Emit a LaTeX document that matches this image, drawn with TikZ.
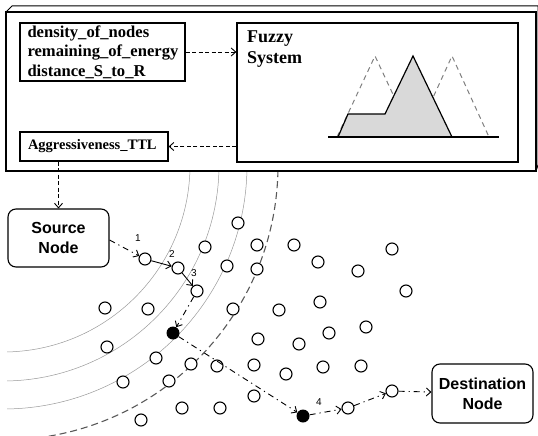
\documentclass[tikz,border=0pt]{standalone}
\usepackage{fontspec}
\setmainfont{Liberation Serif}
\setsansfont{Liberation Sans}
\usetikzlibrary{arrows.meta}
\begin{document}
\begin{tikzpicture}[x=1pt,y=-1pt,
  tip/.style={-{Straight Barb[length=4.5pt,width=8pt]}},
  box/.style={draw, line width=1.3pt, inner ysep=0pt},
  rbox/.style={draw, line width=1.1pt, rounded corners=8pt, minimum width=101pt, minimum height=58pt, inner sep=0pt, font=\sffamily\bfseries\fontsize{16}{20}\selectfont, align=center},
  sn/.style={circle, draw, line width=1.1pt, fill=white, minimum size=12pt, inner sep=0pt},
  bn/.style={circle, fill=black, minimum size=13pt, inner sep=0pt},
  ddarrow/.style={line width=0.9pt, dash pattern=on 6pt off 4pt on 1.2pt off 4pt, tip},
  sarrow/.style={line width=0.9pt, tip},
  dsarrow/.style={line width=0.9pt, dash pattern=on 4pt off 2.5pt, tip},
  numlbl/.style={font=\sffamily\fontsize{10}{12}\selectfont, inner sep=0pt},
  ring/.style={gray!80, line width=0.5pt},
  dring/.style={black!65, line width=1.1pt, dash pattern=on 7pt off 4pt},
]
\useasboundingbox (0,0) rectangle (538,436);

% outer 3D frame
\draw[line width=1pt] (6,12) -- (12,6) -- (538,6) -- (538,165) -- (536,171);
\draw[line width=1.3pt] (6,12) rectangle (536,171);

% inner boxes
\node[box, minimum width=165pt, minimum height=58pt, text width=150pt, inner xsep=7.5pt, align=left,
      font=\bfseries\fontsize{16.6}{19.5}\selectfont] (inp) at (102.5,52)
  {density\_of\_nodes\\remaining\_of\_energy\\distance\_S\_to\_R};
\node[box, minimum width=148pt, minimum height=29pt, text width=132pt, inner xsep=8pt, align=left,
      font=\bfseries\fontsize{14.5}{17}\selectfont] (agg) at (94,146.5) {Aggressiveness\_TTL};
\node[box, minimum width=281pt, minimum height=139pt] (fuzzy) at (377.5,92.5) {};
\node[anchor=north west, inner sep=0pt, align=left, font=\bfseries\fontsize{18}{21}\selectfont] (fztxt) at (247,31) {Fuzzy\\System};

% membership functions
\draw[gray, line width=1pt, dash pattern=on 5pt off 4pt] (337,137) -- (375,56) -- (413,137);
\draw[gray, line width=1pt, dash pattern=on 5pt off 4pt] (415,137) -- (452,56) -- (489,137);
\draw[line width=1.2pt, fill=black!15] (338,137) -- (348,114) -- (385,114) -- (413,56) -- (452,137);
\draw[line width=1.2pt] (328,137) -- (499,137);

% arrows of the fuzzy block
\draw[dsarrow] (inp.east) -- (inp.east -| fuzzy.west);
\draw[dsarrow] (fuzzy.west |- agg.east) -- (agg.east);

% rings
\begin{scope}
\clip (7,172) rectangle (538,436);
\draw[ring] (3,165) circle[radius=187pt];
\draw[ring] (3,165) circle[radius=216pt];
\draw[ring] (3,165) circle[radius=244pt];
\draw[dring] (3,165) circle[radius=275pt];
\end{scope}

% end nodes
\node[rbox] (src) at (58.5,238) {Source\\Node};
\node[rbox, minimum height=59pt] (dst) at (482.5,393.5) {Destination\\Node};
\draw[dsarrow] (agg.south -| src.north) -- (src.north);

% other sensor nodes
\foreach \x/\y [count=\i] in {105/308,148/309,107/347,156/358,123/382,169/381,191/364,217/366,
  182/408,220/408,141/420,205/247,238/223,227/266,257/245,257/269,233/309,258/339,254/365,254/396,
  294/245,318/262,358/271,392/249,406/291,279/310,320/302,329/333,366/327,299/344,323/367,361/366,286/374}
  \node[sn] (c\i) at (\x,\y) {};

% path nodes
\node[sn] (n1) at (145,259) {};
\node[sn] (n2) at (178,268) {};
\node[sn] (n3) at (197,291) {};
\node[bn] (b1) at (173,333) {};
\node[bn] (b2) at (303,416) {};
\node[sn] (n5) at (348,408) {};
\node[sn] (n6) at (392,391) {};

\draw[ddarrow] ([yshift=-2pt]src.east) -- (n1);
\draw[sarrow] (n1) -- (n2);
\draw[sarrow] (n2) -- (n3);
\draw[ddarrow] (n3) -- (b1);
\draw[ddarrow] (b1) -- (b2);
\draw[ddarrow] (b2) -- (n5);
\draw[ddarrow] (n5) -- (n6);
\draw[ddarrow] (n6) -- (dst);

\node[numlbl] (l1) at (138,238) {1};
\node[numlbl] (l2) at (172,254) {2};
\node[numlbl] (l3) at (194,273) {3};
\node[numlbl] (l4) at (319,402) {4};
\end{tikzpicture}
\end{document}
